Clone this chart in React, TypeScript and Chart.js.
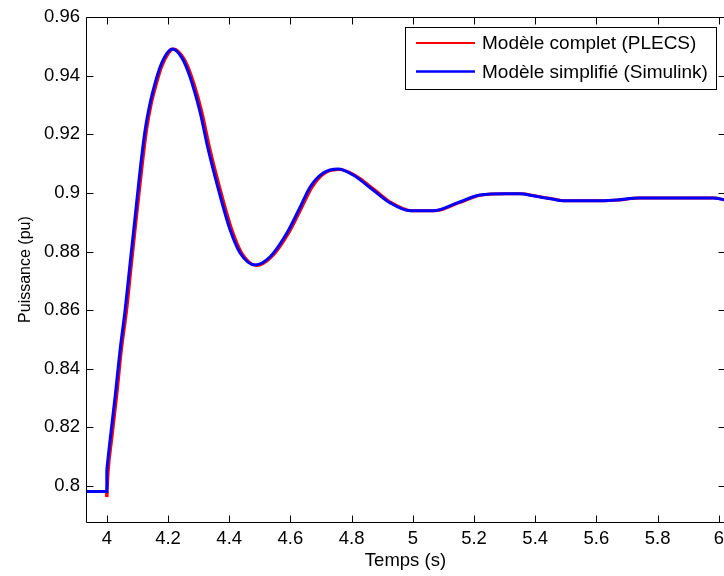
import React, { useEffect, useRef } from "react";
import { Chart, registerables } from "chart.js";

Chart.register(...registerables);

// ---- Data ----
const seriesNames = ["Modèle complet (PLECS)", "Modèle simplifié (Simulink)"];

const xTicks = [4, 4.2, 4.4, 4.6, 4.8, 5, 5.2, 5.4, 5.6, 5.8, 6];
const yTicks = [0.8, 0.82, 0.84, 0.86, 0.88, 0.9, 0.92, 0.94, 0.96];

const xMin = 3.932;
const xMax = 6.02;
const yMin = 0.7877;
const yMax = 0.96;

// Simplified model (Simulink) - blue: initial steady state + step at t = 4 s
const simStepT = [3.93, 4.0, 4.0];
const simStepV = [0.7981, 0.7981, 0.8056];
// Simplified model response after the step
const simT = [4.0, 4.0108, 4.027, 4.0435, 4.0598, 4.0762, 4.0925, 4.1088, 4.1252, 4.1415, 4.1578, 4.1742, 4.197, 4.2134, 4.246, 4.2722, 4.305, 4.331, 4.364, 4.4029, 4.4356, 4.4846, 4.5337, 4.589, 4.632, 4.6644, 4.707, 4.756, 4.805, 4.87, 4.9258, 4.991, 5.066, 5.145, 5.22, 5.302, 5.351, 5.393, 5.455, 5.491, 5.58, 5.668, 5.736, 5.85, 5.981, 6.02];
const simV = [0.8056, 0.8158, 0.8304, 0.8465, 0.8601, 0.8761, 0.8918, 0.9078, 0.9215, 0.9307, 0.9375, 0.943, 0.9477, 0.9491, 0.946, 0.9395, 0.9275, 0.915, 0.9015, 0.8874, 0.8795, 0.8754, 0.8782, 0.8864, 0.8952, 0.902, 0.9068, 0.9082, 0.9061, 0.901, 0.8966, 0.8939, 0.8939, 0.8966, 0.8993, 0.8997, 0.8997, 0.899, 0.8979, 0.8973, 0.8973, 0.8976, 0.8983, 0.8983, 0.8983, 0.8976];

// Complete model (PLECS) - red: initial steady state + dip at t = 4 s
const plecsStepT = [3.93, 4.0, 4.0];
const plecsStepV = [0.7981, 0.7981, 0.7962];
// Complete model response after the step
const plecsT = [4.0, 4.005, 4.016, 4.032, 4.048, 4.065, 4.081, 4.097, 4.114, 4.13, 4.146, 4.163, 4.179, 4.202, 4.218, 4.251, 4.278, 4.311, 4.337, 4.37, 4.409, 4.441, 4.49, 4.539, 4.595, 4.638, 4.671, 4.713, 4.761, 4.81, 4.876, 4.931, 4.996, 5.071, 5.15, 5.225, 5.307, 5.356, 5.398, 5.46, 5.496, 5.585, 5.673, 5.741, 5.855, 5.986, 6.02];
const plecsV = [0.7962, 0.8056, 0.8158, 0.8304, 0.8465, 0.8601, 0.8761, 0.8918, 0.9078, 0.9215, 0.9307, 0.9375, 0.943, 0.9477, 0.9491, 0.946, 0.9395, 0.9275, 0.915, 0.9015, 0.8874, 0.8795, 0.8752, 0.8782, 0.8864, 0.8952, 0.902, 0.9068, 0.908, 0.9061, 0.901, 0.8966, 0.8939, 0.8939, 0.8966, 0.8993, 0.8997, 0.8997, 0.899, 0.8979, 0.8973, 0.8973, 0.8976, 0.8983, 0.8983, 0.8983, 0.8976];

const xTitle = "Temps (s)";
const yTitle = "Puissance (pu)";

const FONT = "'Liberation Sans', Arial, Helvetica, sans-serif";
const RED = "#ff0000";
const BLUE = "#0000ff";

const fmt = (v: number) => String(parseFloat(Number(v).toFixed(2)));
const pts = (t: number[], v: number[]) => t.map((x, i) => ({ x, y: v[i] }));

const decor = {
  id: "decor",
  afterDraw(chart: any) {
    const { ctx, chartArea: a, scales } = chart;
    ctx.save();
    ctx.strokeStyle = "#000";
    ctx.lineWidth = 1;
    const L = Math.round(a.left) + 0.5;
    const R = Math.round(a.right) + 0.5;
    const T = Math.round(a.top) + 0.5;
    const B = Math.round(a.bottom) + 0.5;
    ctx.beginPath();
    ctx.moveTo(L, T);
    ctx.lineTo(R, T);
    ctx.lineTo(R, B);
    ctx.lineTo(L, B);
    ctx.closePath();
    ctx.stroke();

    const tl = 7;
    ctx.beginPath();
    for (const v of xTicks) {
      const px = Math.round(scales.x.getPixelForValue(v)) + 0.5;
      ctx.moveTo(px, B);
      ctx.lineTo(px, B - tl);
      ctx.moveTo(px, T);
      ctx.lineTo(px, T + tl);
    }
    for (const v of yTicks) {
      const py = Math.round(scales.y.getPixelForValue(v)) + 0.5;
      ctx.moveTo(L, py);
      ctx.lineTo(L + tl, py);
      ctx.moveTo(R, py);
      ctx.lineTo(R - tl, py);
    }
    ctx.stroke();

    // axis titles
    ctx.fillStyle = "#000";
    ctx.font = `18.5px ${FONT}`;
    ctx.textAlign = "center";
    ctx.textBaseline = "alphabetic";
    ctx.fillText(xTitle, (a.left + a.right) / 2, 566);

    ctx.save();
    ctx.translate(29.5, (a.top + a.bottom) / 2);
    ctx.rotate(-Math.PI / 2);
    ctx.font = `16px ${FONT}`;
    ctx.fillText(yTitle, 0, 0);
    ctx.restore();

    // legend
    const bx = 405.5, by = 27.5, bw = 311, bh = 62;
    ctx.fillStyle = "#fff";
    ctx.fillRect(bx, by, bw, bh);
    ctx.strokeStyle = "#000";
    ctx.lineWidth = 1;
    ctx.strokeRect(bx, by, bw, bh);
    const rows = [
      { name: seriesNames[0], color: RED, y: 43, w: 2 },
      { name: seriesNames[1], color: BLUE, y: 71.5, w: 2.5 },
    ];
    ctx.font = `19px ${FONT}`;
    ctx.textAlign = "left";
    ctx.textBaseline = "middle";
    for (const r of rows) {
      ctx.strokeStyle = r.color;
      ctx.lineWidth = r.w;
      ctx.beginPath();
      ctx.moveTo(416, r.y);
      ctx.lineTo(475, r.y);
      ctx.stroke();
      ctx.fillStyle = "#000";
      ctx.fillText(r.name, 482, r.y + 1);
    }
    ctx.restore();
  },
};

export default function App() {
  const ref = useRef<HTMLCanvasElement | null>(null);

  useEffect(() => {
    if (!ref.current) return;
    const line = (data: any[], color: string, smooth: boolean) => ({
      data,
      borderColor: color,
      borderWidth: 3,
      pointRadius: 0,
      fill: false,
      tension: 0,
      cubicInterpolationMode: smooth ? "monotone" : "default",
    });
    const chart = new Chart(ref.current, {
      type: "line",
      data: {
        datasets: [
          { label: seriesNames[1], ...line(pts(simT, simV), BLUE, true) },
          { label: seriesNames[1] + " step", ...line(pts(simStepT, simStepV), BLUE, false) },
          { label: seriesNames[0], ...line(pts(plecsT, plecsV), RED, true) },
          { label: seriesNames[0] + " step", ...line(pts(plecsStepT, plecsStepV), RED, false) },
        ],
      },
      options: {
        animation: false,
        responsive: false,
        devicePixelRatio: 1,
        layout: { padding: { left: 0, right: 5, top: 17, bottom: 0 } },
        plugins: {
          legend: { display: false },
          tooltip: { enabled: false },
        },
        scales: {
          x: {
            type: "linear",
            min: xMin,
            max: xMax,
            grid: { display: false, drawTicks: false },
            border: { display: false },
            afterBuildTicks: (s: any) => {
              s.ticks = xTicks.map((v) => ({ value: v }));
            },
            afterFit: (s: any) => {
              s.height = 54;
            },
            ticks: {
              autoSkip: false,
              maxRotation: 0,
              padding: 6,
              color: "#000",
              font: { family: FONT, size: 18.5 },
              callback: (v: any) => fmt(v),
            },
          },
          y: {
            type: "linear",
            min: yMin,
            max: yMax,
            grid: { display: false, drawTicks: false },
            border: { display: false },
            afterBuildTicks: (s: any) => {
              s.ticks = yTicks.map((v) => ({ value: v }));
            },
            afterFit: (s: any) => {
              s.width = 86;
            },
            ticks: {
              autoSkip: false,
              padding: 6,
              color: "#000",
              font: { family: FONT, size: 18.5 },
              callback: (v: any) => fmt(v),
            },
          },
        },
      },
      plugins: [decor],
    } as any);
    return () => chart.destroy();
  }, []);

  return (
    <div
      style={{
        position: "fixed",
        left: 0,
        top: 0,
        width: 724,
        height: 576,
        overflow: "hidden",
        background: "#fff",
      }}
    >
      <canvas ref={ref} width={730} height={576} style={{ display: "block" }} />
    </div>
  );
}
